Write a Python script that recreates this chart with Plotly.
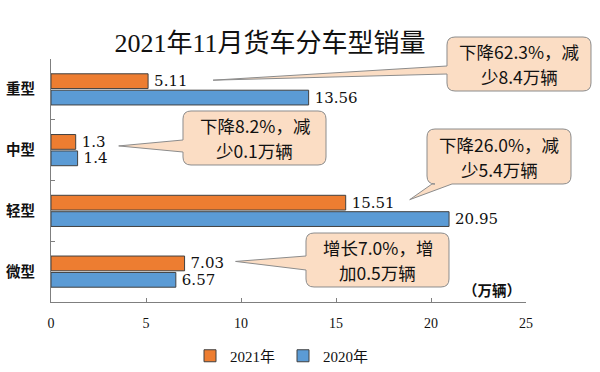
import plotly.graph_objects as go

# ---- data ----
categories = ["重型", "中型", "轻型", "微型"]
sales_2021 = [5.11, 1.3, 15.51, 7.03]
sales_2020 = [13.56, 1.4, 20.95, 6.57]
series_names = ["2021年", "2020年"]
callout_line1 = ["下降62.3%，减", "下降8.2%，减", "下降26.0%，减", "增长7.0%，增"]
callout_line2 = ["少8.4万辆", "少0.1万辆", "少5.4万辆", "加0.5万辆"]
x_ticks = [0, 5, 10, 15, 20, 25]
title_text = "2021年11月货车分车型销量"
unit_text = "（万辆）"

# ---- layout constants (pixels) ----
W, H = 600, 372
ML, MR, MT, MB = 51, 74, 59, 70
XMAX = 25
plot_w = W - ML - MR
plot_h = H - MT - MB


def xpx(v):
    return ML + v / XMAX * plot_w


def ypx_cat(i):
    # centre of category i (0 = top) in pixels
    return MT + (i + 0.5) * plot_h / len(categories)


def px2paper(px, py):
    return (px - ML) / plot_w, (MT + plot_h - py) / plot_h


# callout boxes: (x0, y0, x1, y1), wedge side, wedge base (a, b), gap after bar end to tip
boxes = [
    ((447, 37, 591, 91), "left", (66, 74), 65),
    ((183, 111, 326, 165), "left", (140, 152), 43),
    ((427, 129, 571, 184), "bottom", (432, 452), 64),
    ((306, 233, 449, 287), "left", (256, 270), 51),
]
tip_dy = [-9, -4, -11, -10]  # tip vertical offset from the 2021 bar centre

ORANGE = "#ED7D31"
BLUE = "#5B9BD5"
EDGE = "#404040"
BOX_FILL = "#FBDDC4"
BOX_LINE = "#8C8C8C"

fig = go.Figure()
for name, vals, col in [(series_names[0], sales_2021, ORANGE), (series_names[1], sales_2020, BLUE)]:
    fig.add_trace(go.Bar(
        y=categories, x=vals, name=name, orientation="h",
        marker=dict(color=col, line=dict(color=EDGE, width=1)),
        text=[f"\u2009{v:g}" for v in vals], textposition="outside",
        textfont=dict(family="DejaVu Serif", size=15, color="#111111"),
        constraintext="none", cliponaxis=False,
    ))


def P(px, py):
    a, b = px2paper(px, py)
    return f"{a:.5f},{b:.5f}"


shapes = []
annotations = []
r = 8
band = plot_h / len(categories)
for i, ((x0, y0, x1, y1), side, (a, b), gap) in enumerate(boxes):
    # tip derived from the 2021 bar end of that category
    bar_c = ypx_cat(i) - band * 0.54 / 4
    tx = xpx(sales_2021[i]) + gap
    ty = bar_c + tip_dy[i] + 8
    d = "M " + P(x0 + r, y0)
    d += " L " + P(x1 - r, y0) + " Q " + P(x1, y0) + " " + P(x1, y0 + r)
    d += " L " + P(x1, y1 - r) + " Q " + P(x1, y1) + " " + P(x1 - r, y1)
    if side == "bottom":
        d += " L " + P(b, y1) + " L " + P(tx, ty) + " L " + P(a, y1)
    d += " L " + P(x0 + r, y1) + " Q " + P(x0, y1) + " " + P(x0, y1 - r)
    if side == "left":
        d += " L " + P(x0, b) + " L " + P(tx, ty) + " L " + P(x0, a)
    d += " L " + P(x0, y0 + r) + " Q " + P(x0, y0) + " " + P(x0 + r, y0) + " Z"
    shapes.append(dict(type="path", xref="paper", yref="paper", path=d,
                       fillcolor=BOX_FILL, line=dict(color=BOX_LINE, width=1), layer="above"))
    cx = (x0 + x1) / 2
    cy = (y0 + y1) / 2
    for txt, dy in [(callout_line1[i], -12.5), (callout_line2[i], 12.5)]:
        ax, ay = px2paper(cx, cy + dy)
        annotations.append(dict(xref="paper", yref="paper", x=ax, y=ay, text=txt,
                                showarrow=False, xanchor="center", yanchor="middle",
                                font=dict(family="Noto Sans CJK SC", size=17.5, color="#111111")))

ux, uy = px2paper(492, 289)
annotations.append(dict(xref="paper", yref="paper", x=ux, y=uy, text=unit_text, showarrow=False,
                        xanchor="center", yanchor="middle",
                        font=dict(family="Noto Sans CJK SC", size=14.5, color="#111111", weight="bold")))

fig.update_layout(
    width=W, height=H,
    margin=dict(l=ML, r=MR, t=MT, b=MB, pad=0, autoexpand=False),
    paper_bgcolor="white", plot_bgcolor="white",
    barmode="group", bargap=0.46, bargroupgap=0.1,
    title=dict(text=title_text, x=270 / W, xanchor="center", xref="container",
               y=1 - 43 / H, yanchor="middle", yref="container",
               font=dict(family="Liberation Serif, Noto Sans CJK SC", size=26, color="#111111")),
    showlegend=True,
    legend=dict(orientation="h", x=283 / W, xanchor="center", xref="container",
                y=1 - 356 / H, yanchor="middle", yref="container",
                font=dict(family="Liberation Serif, Noto Sans CJK SC", size=15, color="#111111"),
                itemwidth=30, traceorder="normal", entrywidth=48, entrywidthmode="pixels"),
    shapes=shapes, annotations=annotations,
)
fig.update_xaxes(range=[0, XMAX], tickvals=x_ticks, showgrid=False, zeroline=False,
                 showline=True, linecolor="#7F7F7F", linewidth=1, automargin=False,
                 ticks="inside", ticklen=4, tickcolor="#7F7F7F",
                 ticklabelstandoff=8,
                 tickfont=dict(family="Liberation Serif", size=14, color="#111111"))
fig.update_yaxes(type="category", categoryorder="array", categoryarray=categories,
                 autorange="reversed", showgrid=False, zeroline=False,
                 showline=True, linecolor="#7F7F7F", linewidth=1, automargin=False,
                 ticks="inside", ticklen=4, tickcolor="#7F7F7F", tickson="boundaries",
                 ticklabelstandoff=12,
                 tickfont=dict(family="Noto Sans CJK SC", size=14.5, color="#111111", weight="bold"))

fig.write_html("out.html", post_script="document.body.style.margin='0';",
               config={"displayModeBar": False})
